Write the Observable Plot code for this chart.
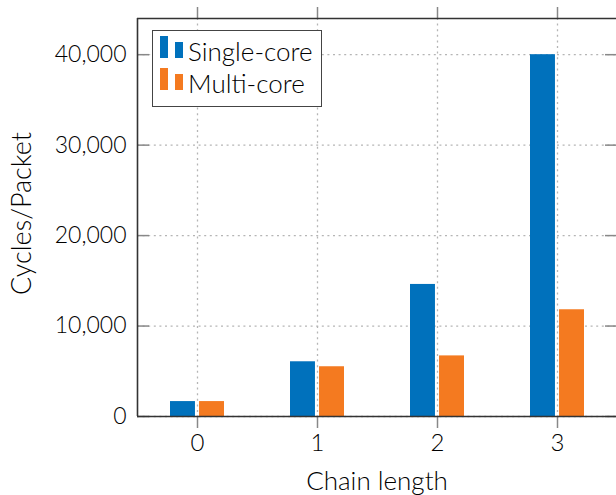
<!DOCTYPE html>
<html>
<head>
<meta charset="utf-8">
<script src="https://cdn.jsdelivr.net/npm/d3@7"></script>
<script src="https://cdn.jsdelivr.net/npm/@observablehq/plot@0.6"></script>
<style>
  html, body { margin: 0; padding: 0; background: #fff; }
  #wrap { position: relative; width: 616px; height: 495px; overflow: hidden; font-family: Lato, "DejaVu Sans", sans-serif; font-weight: 300; }
  #legend { position: absolute; left: 152px; top: 30px; width: 168px; height: 75px; border: 1px solid #444; background: #fff; }
  .row { position: absolute; left: 0; height: 30px; }
  .sw { position: absolute; width: 8px; }
  .lab { position: absolute; left: 35px; font-size: 26px; line-height: 30px; white-space: nowrap; color: #000; font-weight: 300; }
</style>
</head>
<body>
<div id="wrap"></div>
<script>
const categories = [0, 1, 2, 3];
const seriesNames = ["Single-core", "Multi-core"];
const singleCore = [1650, 6050, 14600, 40000];
const multiCore = [1650, 5500, 6700, 11800];
const xTicks = [0, 1, 2, 3];
const yTicks = [0, 10000, 20000, 30000, 40000];
const colors = ["#0071bc", "#f47a20"];

const data = categories.flatMap((c, i) => [
  {c, s: seriesNames[0], v: singleCore[i]},
  {c, s: seriesNames[1], v: multiCore[i]}
]);
const gap = 0.017, barW = 0.208;
const fmt = d3.format(",");

const chart = Plot.plot({
  width: 616, height: 495,
  marginLeft: 137, marginRight: 0, marginTop: 18, marginBottom: 79,
  x: {domain: [-0.5, 3.5], range: [137, 617]},
  y: {domain: [0, 44000], range: [416, 18]},
  color: {domain: seriesNames, range: colors},
  style: {fontFamily: "Lato, 'DejaVu Sans', sans-serif", fontSize: "23px", fontWeight: 300, color: "#000", background: "#fff"},
  marks: [
    Plot.gridX(xTicks, {stroke: "#b5b5b5", strokeOpacity: 1, strokeWidth: 1.3, strokeDasharray: "2,3.6"}),
    Plot.gridY(yTicks, {stroke: "#b5b5b5", strokeOpacity: 1, strokeWidth: 1.3, strokeDasharray: "2,3.6"}),
    Plot.rect(data, {
      x1: d => d.c + (d.s === seriesNames[0] ? -gap - barW : gap),
      x2: d => d.c + (d.s === seriesNames[0] ? -gap : gap + barW),
      y1: 0, y2: "v", fill: "s"
    }),
    Plot.axisX(xTicks, {anchor: "bottom", tickSize: 12, stroke: "#888", strokeWidth: 1.5, tickFormat: () => "", label: null}),
    Plot.axisX(xTicks, {anchor: "top", tickSize: 12, stroke: "#888", strokeWidth: 1.5, tickFormat: () => "", label: null}),
    Plot.axisY(yTicks, {anchor: "left", tickSize: -12, stroke: "#888", strokeWidth: 1.5, tickFormat: () => "", label: null}),
    Plot.axisY(yTicks, {anchor: "right", tickSize: -12, stroke: "#888", strokeWidth: 1.5, tickFormat: () => "", label: null}),
    Plot.axisX(xTicks, {anchor: "bottom", tickSize: 0, tickPadding: 17, fontSize: 24, tickFormat: d => String(d), label: null}),
    Plot.axisY(yTicks, {anchor: "left", tickSize: 0, tickPadding: 11, fontSize: 23, tickFormat: fmt, label: null}),
    Plot.ruleX([-0.5], {stroke: "#333", strokeWidth: 1.6}),
    Plot.ruleY([0, 44000], {stroke: "#333", strokeWidth: 1.6}),
    Plot.text(["Chain length"], {text: d => d, frameAnchor: "bottom", dy: 73, fontSize: 26, fill: "#000"}),
    Plot.text(["Cycles/Packet"], {text: d => d, frameAnchor: "left", textAnchor: "middle", dx: -115, dy: -4, rotate: -90, fontSize: 27, fill: "#000"})
  ]
});

const wrap = document.getElementById("wrap");
wrap.appendChild(chart);

const legend = document.createElement("div");
legend.id = "legend";
seriesNames.forEach((name, i) => {
  const row = document.createElement("div");
  row.className = "row";
  row.style.top = (5 + i * 32) + "px";
  row.style.width = "168px";
  const a = document.createElement("div");
  a.className = "sw"; a.style.left = "7px"; a.style.top = "0px"; a.style.height = "22px"; a.style.background = colors[i];
  const b = document.createElement("div");
  b.className = "sw"; b.style.left = "22px"; b.style.top = "6px"; b.style.height = "16px"; b.style.background = colors[i];
  const t = document.createElement("div");
  t.className = "lab"; t.textContent = name; t.style.top = "0px";
  row.appendChild(a); row.appendChild(b); row.appendChild(t);
  legend.appendChild(row);
});
wrap.appendChild(legend);
</script>
</body>
</html>
